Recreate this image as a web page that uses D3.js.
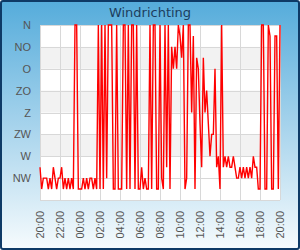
<!DOCTYPE html>
<meta charset="utf-8">
<script src="https://d3js.org/d3.v7.min.js"></script>
<style type="text/css">
body { margin: 0; }
svg { display: block; font-family: "DejaVu Sans", sans-serif; }
.grid line { stroke: #d8d8d8; stroke-width: 1px; }
.axis text { fill: #555; font-size: 11px; }
.axis path, .axis line { display: none; }
</style>
<body></body>
<script>

// wind direction in degrees, one reading every 10 minutes from 20:00 to 20:00
var startTime = new Date(2013, 0, 1, 20, 0);
var stepMinutes = 10;
var directions = [
  292.5, 337.5, 315, 315, 315, 337.5,     // 20:00
  315, 337.5, 292.5, 315, 337.5, 315,     // 21:00
  315, 292.5, 337.5, 315, 337.5, 315,     // 22:00
  337.5, 315, 337.5, 0, 0, 337.5,         // 23:00
  337.5, 337.5, 315, 337.5, 315, 337.5,   // 00:00
  315, 315, 337.5, 315, 337.5, 0,         // 01:00
  337.5, 0, 337.5, 0, 315, 0,             // 02:00
  0, 0, 337.5, 337.5, 0, 337.5,           // 03:00
  337.5, 337.5, 0, 0, 337.5, 0,           // 04:00
  337.5, 0, 0, 337.5, 0, 337.5,           // 05:00
  337.5, 292.5, 337.5, 315, 337.5, 337.5, // 06:00
  0, 337.5, 0, 0, 337.5, 337.5,           // 07:00
  0, 315, 337.5, 0, 292.5, 0,             // 08:00
  337.5, 45, 90, 45, 90, 0,               // 09:00
  22.5, 67.5, 0, 337.5, 315, 0,           // 10:00
  0, 180, 22.5, 337.5, 67.5, 90,          // 11:00
  202.5, 292.5, 67.5, 180, 135, 202.5,    // 12:00
  270, 225, 225, 90, 292.5, 270,          // 13:00
  337.5, 0, 292.5, 270, 292.5, 270,       // 14:00
  292.5, 292.5, 270, 292.5, 315, 315,     // 15:00
  292.5, 315, 292.5, 315, 292.5, 315,     // 16:00
  292.5, 315, 270, 292.5, 292.5, 337.5,   // 17:00
  337.5, 0, 0, 337.5, 337.5, 0,           // 18:00
  22.5, 337.5, 337.5, 22.5, 22.5, 337.5,  // 19:00
  0                                       // 20:00
];

var yTickValues = [0, 45, 90, 135, 180, 225, 270, 315];
var yTickLabels = ["N", "NO", "O", "ZO", "Z", "ZW", "W", "NW"];
var xTickLabels = ["20:00", "22:00", "00:00", "02:00", "04:00", "06:00", "08:00",
                   "10:00", "12:00", "14:00", "16:00", "18:00", "20:00"];
var grayBands = [[45, 90], [135, 180], [225, 270]];

var data = directions.map(function(d, i) {
  return { time: new Date(startTime.getTime() + i * stepMinutes * 60000), dir: d };
});

var W = 300, H = 250;
var margin = {top: 25, right: 20, bottom: 50, left: 40};
var width = W - margin.left - margin.right,
    height = H - margin.top - margin.bottom;

var svg = d3.select("body").append("svg")
    .attr("width", W)
    .attr("height", H);

var defs = svg.append("defs");
var grad = defs.append("linearGradient")
    .attr("id", "bg")
    .attr("x1", 0).attr("y1", 0).attr("x2", 0).attr("y2", 1);
grad.append("stop").attr("offset", "0%").attr("stop-color", "#55acdb");
grad.append("stop").attr("offset", "50%").attr("stop-color", "#a6d3ec");
grad.append("stop").attr("offset", "100%").attr("stop-color", "#f6fbfd");

svg.append("rect")
    .attr("x", 1).attr("y", 1)
    .attr("width", W - 2).attr("height", H - 2)
    .attr("rx", 2)
    .attr("fill", "url(#bg)")
    .attr("stroke", "#0e3a66")
    .attr("stroke-width", 2);

svg.append("text")
    .attr("x", W / 2)
    .attr("y", 17)
    .attr("text-anchor", "middle")
    .style("font-size", "13px")
    .style("fill", "#1c3d5e")
    .text("Windrichting");

var g = svg.append("g")
    .attr("transform", "translate(" + margin.left + "," + margin.top + ")");

var xScale = d3.scaleTime()
    .domain([data[0].time, data[data.length - 1].time])
    .range([0, width]);

var yScale = d3.scaleLinear()
    .domain([0, 360])
    .range([0, height]);

// plot background and bands
g.append("rect")
    .attr("width", width)
    .attr("height", height)
    .attr("fill", "#fff");

g.selectAll(".band")
    .data(grayBands)
    .enter().append("rect")
    .attr("class", "band")
    .attr("x", 0)
    .attr("width", width)
    .attr("y", function(d) { return yScale(d[0]); })
    .attr("height", function(d) { return yScale(d[1]) - yScale(d[0]); })
    .attr("fill", "#f2f2f2");

var xTicks = xScale.ticks(d3.timeHour.every(2));

var grid = g.append("g").attr("class", "grid");
grid.selectAll(".hline")
    .data(yTickValues.concat([360]))
    .enter().append("line")
    .attr("x1", 0).attr("x2", width)
    .attr("y1", function(d) { return Math.round(yScale(d)) + 0.5; })
    .attr("y2", function(d) { return Math.round(yScale(d)) + 0.5; });
grid.selectAll(".vline")
    .data(xTicks)
    .enter().append("line")
    .attr("y1", 0).attr("y2", height)
    .attr("x1", function(d) { return Math.round(xScale(d)) + 0.5; })
    .attr("x2", function(d) { return Math.round(xScale(d)) + 0.5; });

var yAxis = d3.axisLeft(yScale)
    .tickValues(yTickValues)
    .tickFormat(function(d, i) { return yTickLabels[i]; })
    .tickSize(0)
    .tickPadding(9);

g.append("g")
    .attr("class", "y axis")
    .call(yAxis);

var xAxis = d3.axisBottom(xScale)
    .tickValues(xTicks)
    .tickFormat(function(d, i) { return xTickLabels[i]; })
    .tickSize(0);

g.append("g")
    .attr("class", "x axis")
    .attr("transform", "translate(0," + height + ")")
    .call(xAxis)
  .selectAll("text")
    .attr("transform", "rotate(-90)")
    .attr("text-anchor", "end")
    .attr("x", -11)
    .attr("y", 0)
    .attr("dy", "0.35em");

var line = d3.line()
    .x(function(d) { return xScale(d.time); })
    .y(function(d) { return yScale(d.dir); });

g.append("path")
    .datum(data)
    .attr("fill", "none")
    .attr("stroke", "#ff0000")
    .attr("stroke-width", 1.4)
    .attr("d", line);

</script>
